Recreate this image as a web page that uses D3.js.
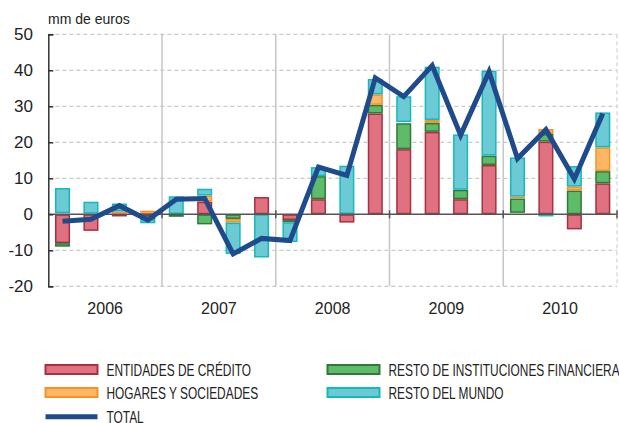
<!DOCTYPE html>
<html>
<head>
<meta charset="utf-8">
<script src="https://cdn.jsdelivr.net/npm/d3@7"></script>
<style>
  html, body { margin: 0; padding: 0; background: #fff; }
  svg { display: block; font-family: "Liberation Sans", Arial, sans-serif; }
</style>
</head>
<body>
<svg id="chart" width="619" height="423"></svg>
<script>
// Quarterly data, 2006-2010 (mm de euros)
const years = ['2006', '2007', '2008', '2009', '2010'];
const quarters = years.flatMap(y => ['T1', 'T2', 'T3', 'T4'].map(q => y + '-' + q));

const entidadesCredito = [-8, -4.6, -0.6, -0.5, 0, 3.5, 0, 4.8, -1.6, 4.2, -2.3, 28.0, 18.1, 22.9, 4.2, 13.7, 0.4, 20.2, -4.2, 8.6];
const restoInstituciones = [-1, 0, 0.2, -0.8, -0.7, -2.8, -1.3, 0.4, -0.6, 6.4, -0.4, 2.4, 7.2, 2.5, 2.6, 2.6, 4.0, 2.1, 6.6, 3.4];
const hogaresSociedades = [0.3, 0.2, 0.6, 1.0, 0.1, 1.7, -1.0, 0.1, 0.4, -0.3, 0.1, 2.9, 0.3, 0.8, -0.4, -0.2, 0.5, 1.4, 1.1, 6.6];
const restoMundo = [7, 3.3, 2.2, -1.2, 4.9, 1.9, -8.7, -12.0, -5.5, 2.5, 13.4, 4.3, 7.2, 14.8, 15.4, 23.6, 10.9, -0.6, 5.7, 9.7];
const total = [-1.9, -1.4, 2.4, -1.6, 4.2, 4.4, -11, -6.7, -7.3, 13.1, 10.8, 37.9, 32.7, 41.3, 22.0, 39.6, 15.5, 23.5, 9.8, 28.0];

const yTicks = [-20, -10, 0, 10, 20, 30, 40, 50];

const SERIES = [
  { key: 'credito', name: 'ENTIDADES DE CRÉDITO', values: entidadesCredito, fill: '#e07180', stroke: '#a8303f' },
  { key: 'instit', name: 'RESTO DE INSTITUCIONES FINANCIERA', values: restoInstituciones, fill: '#5dbb6a', stroke: '#2f7a3b' },
  { key: 'hogares', name: 'HOGARES Y SOCIEDADES', values: hogaresSociedades, fill: '#fdb764', stroke: '#f39328' },
  { key: 'mundo', name: 'RESTO DEL MUNDO', values: restoMundo, fill: '#6ccad5', stroke: '#15b8bf' }
];
const TOTAL_COLOR = '#1f4a8c';

const svg = d3.select('#chart');
const plot = { left: 48.3, right: 617, top: 34.3, bottom: 286.3 };

const x = d3.scaleBand().domain(quarters).range([plot.left, plot.right]).paddingInner(0.47).paddingOuter(0.235);
const xYear = d3.scaleBand().domain(years).range([plot.left, plot.right]).padding(0);
const y = d3.scaleLinear().domain([-20, 50]).range([plot.bottom, plot.top]);

// Table for the stack
const table = quarters.map((q, i) => {
  const row = { q };
  SERIES.forEach(s => { row[s.key] = s.values[i]; });
  return row;
});
const stacked = d3.stack()
  .keys(SERIES.map(s => s.key))
  .offset(d3.stackOffsetDiverging)(table);

// Gridlines (dashed)
svg.append('g')
  .selectAll('line')
  .data(yTicks.filter(t => t !== 0))
  .join('line')
  .attr('x1', plot.left).attr('x2', plot.right)
  .attr('y1', d => y(d)).attr('y2', d => y(d))
  .attr('stroke', '#bdbdbd')
  .attr('stroke-width', 1)
  .attr('stroke-dasharray', '4,3');

// right border dashed
svg.append('line')
  .attr('x1', plot.right).attr('x2', plot.right)
  .attr('y1', plot.top).attr('y2', plot.bottom)
  .attr('stroke', '#c8c8c8')
  .attr('stroke-dasharray', '4,3');

// Year separators
svg.append('g')
  .selectAll('line')
  .data(years.slice(1))
  .join('line')
  .attr('x1', d => xYear(d)).attr('x2', d => xYear(d))
  .attr('y1', plot.top).attr('y2', plot.bottom)
  .attr('stroke', '#c6c6c6')
  .attr('stroke-width', 1.5);

// Bars
const barGroup = svg.append('g');
stacked.forEach((layer, li) => {
  const s = SERIES[li];
  barGroup.append('g')
    .selectAll('rect')
    .data(layer)
    .join('rect')
    .attr('x', d => x(d.data.q) + 0.75)
    .attr('width', x.bandwidth() - 1.5)
    .attr('y', d => y(Math.max(d[0], d[1])) + 0.75)
    .attr('height', d => Math.max(0, Math.abs(y(d[0]) - y(d[1])) - 1.5))
    .attr('fill', s.fill)
    .attr('stroke', s.stroke)
    .attr('stroke-width', 1.5)
    .style('display', d => Math.abs(d[1] - d[0]) < 0.05 ? 'none' : null);
});

// Zero line with ticks at year boundaries
svg.append('line')
  .attr('x1', plot.left).attr('x2', plot.right)
  .attr('y1', y(0)).attr('y2', y(0))
  .attr('stroke', '#555')
  .attr('stroke-width', 1.5);
svg.append('g')
  .selectAll('line')
  .data(years.slice(1).concat(['end']))
  .join('line')
  .attr('x1', d => d === 'end' ? plot.right : xYear(d))
  .attr('x2', d => d === 'end' ? plot.right : xYear(d))
  .attr('y1', y(0) - 4).attr('y2', y(0) + 4)
  .attr('stroke', '#555')
  .attr('stroke-width', 1.5);

// Left axis
const yAxis = d3.axisRight(y).tickValues(yTicks).tickSize(5).tickFormat('');
const ax = svg.append('g').attr('transform', `translate(${plot.left},0)`).call(yAxis);
ax.select('.domain').attr('stroke', '#333').attr('stroke-width', 1.5);
ax.selectAll('.tick line').attr('stroke', '#333').attr('stroke-width', 1.5);

svg.append('g')
  .selectAll('text')
  .data(yTicks)
  .join('text')
  .attr('x', 33)
  .attr('y', d => y(d) + 6)
  .attr('text-anchor', 'end')
  .attr('font-size', 17)
  .attr('fill', '#222')
  .text(d => d);

svg.append('text')
  .attr('x', 48)
  .attr('y', 24)
  .attr('font-size', 14)
  .attr('fill', '#222')
  .text('mm de euros');

// Year labels
svg.append('g')
  .selectAll('text')
  .data(years)
  .join('text')
  .attr('x', d => xYear(d) + xYear.bandwidth() / 2)
  .attr('y', 314)
  .attr('text-anchor', 'middle')
  .attr('font-size', 16)
  .attr('fill', '#222')
  .text(d => d);

// Total line
const line = d3.line()
  .x((d, i) => x(quarters[i]) + x.bandwidth() / 2)
  .y(d => y(d));
svg.append('path')
  .datum(total)
  .attr('d', line)
  .attr('fill', 'none')
  .attr('stroke', TOTAL_COLOR)
  .attr('stroke-width', 5)
  .attr('stroke-linejoin', 'miter');

// Legend (condensed caps: regular font squeezed horizontally)
const legendItems = [
  { s: SERIES[0], col: 0, row: 0 },
  { s: SERIES[1], col: 1, row: 0 },
  { s: SERIES[2], col: 0, row: 1 },
  { s: SERIES[3], col: 1, row: 1 }
];
const colX = [45.5, 327.5];
const rowY = [369.5, 392.5, 416.7];
const legend = svg.append('g')
  .attr('font-size', 16.3)
  .attr('fill', '#222');

function legendLabel(px, py, label) {
  legend.append('text')
    .attr('transform', `translate(${px},${py}) scale(0.73,1)`)
    .text(label);
}

legendItems.forEach(it => {
  legend.append('rect')
    .attr('x', colX[it.col])
    .attr('y', rowY[it.row] - 4.5)
    .attr('width', 52)
    .attr('height', 9)
    .attr('fill', it.s.fill)
    .attr('stroke', it.s.stroke)
    .attr('stroke-width', 2);
  legendLabel(colX[it.col] + 61, rowY[it.row] + 6, it.s.name);
});
legend.append('line')
  .attr('x1', colX[0]).attr('x2', colX[0] + 52)
  .attr('y1', rowY[2]).attr('y2', rowY[2])
  .attr('stroke', TOTAL_COLOR)
  .attr('stroke-width', 5);
legendLabel(colX[0] + 61, rowY[2] + 5.8, 'TOTAL');
</script>
</body>
</html>
